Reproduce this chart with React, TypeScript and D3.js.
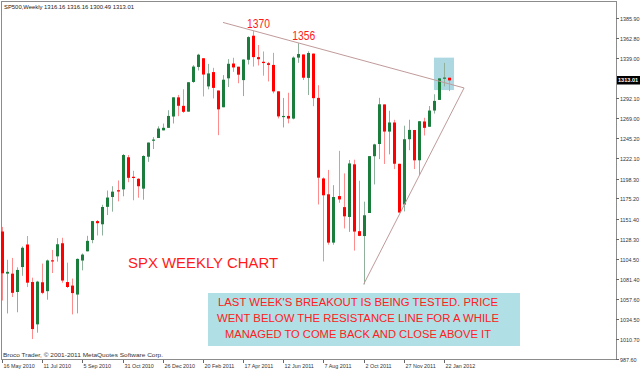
import React, { useEffect } from 'react';
import * as d3 from 'd3';

// weekly SP500 bars, 16 May 2010 .. 29 Jan 2012 (one entry per week)
const opens = [
  1136.52, 1087.3, 1087.3, 1065.84, 1095.0, 1121.34, 1077.5, 1028.09, 1077.23, 1066.85,
  1102.89, 1107.53, 1122.8, 1077.49, 1073.36, 1062.9, 1102.6, 1113.38, 1126.57, 1148.64,
  1144.96, 1165.32, 1176.83, 1184.74, 1185.71, 1223.24, 1200.44, 1198.07, 1186.6, 1223.87,
  1242.52, 1245.76, 1254.66, 1257.62, 1270.84, 1293.22, 1283.29, 1276.5, 1311.19, 1328.73,
  1338.91, 1306.0, 1322.72, 1301.19, 1281.65, 1315.45, 1332.71, 1329.01, 1313.35, 1337.14,
  1365.21, 1340.2, 1334.77, 1333.07, 1331.1, 1300.26, 1271.31, 1271.5, 1268.44, 1339.62,
  1343.31, 1315.94, 1344.32, 1292.59, 1198.48, 1179.99, 1123.55, 1177.91, 1165.0, 1153.5,
  1214.99, 1136.91, 1131.21, 1158.15, 1224.47, 1238.72, 1284.96, 1253.21, 1263.85, 1215.62,
  1168.0, 1244.33, 1255.05, 1219.74, 1265.02, 1258.86, 1277.83, 1290.22, 1315.29, 1316.16,
];
const highs = [
  1141.88, 1103.52, 1105.67, 1094.68, 1119.13, 1131.23, 1082.6, 1078.94, 1099.08, 1103.73,
  1115.01, 1128.75, 1129.24, 1100.14, 1081.58, 1105.1, 1110.88, 1131.47, 1148.9, 1149.92,
  1167.73, 1184.38, 1189.43, 1196.14, 1227.08, 1225.84, 1207.43, 1198.94, 1225.57, 1240.4,
  1246.73, 1259.39, 1262.6, 1278.17, 1293.24, 1296.06, 1302.67, 1311.0, 1330.79, 1344.07,
  1338.91, 1332.28, 1327.68, 1301.19, 1319.18, 1337.85, 1339.46, 1329.01, 1337.49, 1364.56,
  1370.58, 1354.36, 1346.82, 1334.62, 1345.2, 1300.26, 1292.5, 1298.61, 1341.01, 1356.48,
  1343.31, 1347.0, 1344.32, 1307.38, 1199.75, 1208.47, 1190.68, 1230.71, 1204.4, 1220.06,
  1220.39, 1195.86, 1171.36, 1224.61, 1239.03, 1292.66, 1284.96, 1277.55, 1266.98, 1215.62,
  1260.08, 1267.06, 1255.19, 1265.42, 1269.37, 1283.05, 1296.82, 1315.49, 1333.47, 1316.16,
];
const lows = [
  1055.9, 1040.78, 1060.0, 1042.17, 1084.78, 1071.63, 1010.91, 1018.35, 1063.32, 1056.88,
  1088.01, 1101.32, 1076.61, 1070.55, 1039.7, 1040.88, 1091.15, 1113.38, 1122.79, 1131.87,
  1131.87, 1155.71, 1159.71, 1171.7, 1177.65, 1194.08, 1173.0, 1176.0, 1173.64, 1217.88,
  1232.85, 1245.76, 1254.66, 1257.62, 1262.66, 1271.26, 1275.1, 1276.5, 1310.17, 1324.61,
  1294.26, 1302.58, 1291.99, 1249.05, 1281.65, 1305.26, 1322.94, 1309.66, 1294.7, 1331.63,
  1329.17, 1330.42, 1318.51, 1311.8, 1297.9, 1268.59, 1258.07, 1262.87, 1267.53, 1333.56,
  1313.45, 1295.92, 1282.86, 1168.09, 1101.54, 1121.09, 1121.09, 1170.0, 1140.13, 1136.07,
  1114.22, 1131.07, 1074.77, 1158.15, 1191.48, 1221.06, 1215.42, 1226.64, 1209.43, 1158.66,
  1160.0, 1231.47, 1209.47, 1202.37, 1248.64, 1258.86, 1274.29, 1290.22, 1306.06, 1300.49,
];
const closes = [
  1087.69, 1089.41, 1064.88, 1091.6, 1117.51, 1076.76, 1022.58, 1077.96, 1064.88, 1102.66,
  1101.6, 1121.64, 1079.25, 1071.69, 1064.59, 1104.51, 1109.55, 1125.59, 1148.67, 1146.24,
  1165.15, 1176.19, 1183.08, 1183.26, 1225.85, 1199.21, 1199.73, 1189.4, 1224.71, 1240.4,
  1243.91, 1256.77, 1257.64, 1271.5, 1293.24, 1283.35, 1276.34, 1310.87, 1329.15, 1343.01,
  1319.88, 1321.15, 1304.28, 1279.21, 1313.8, 1332.41, 1328.17, 1319.68, 1337.38, 1363.61,
  1340.2, 1337.77, 1333.27, 1331.1, 1300.16, 1270.98, 1271.5, 1268.45, 1339.67, 1343.8,
  1316.14, 1345.02, 1292.28, 1199.38, 1178.81, 1123.53, 1176.8, 1173.97, 1154.23, 1216.01,
  1136.43, 1131.42, 1155.46, 1224.58, 1238.25, 1285.09, 1253.23, 1263.85, 1215.65, 1158.67,
  1244.28, 1255.19, 1219.66, 1265.33, 1257.6, 1277.81, 1289.09, 1315.38, 1316.33, 1313.01,
];

// price axis labels (1315.90 sits under the last-price box)
const priceTicks = [987.6, 1010.7, 1034.5, 1057.6, 1081.4, 1104.5, 1128.3, 1151.4, 1175.2, 1198.3,
  1222.1, 1245.2, 1269.0, 1292.1, 1339.0, 1362.8, 1385.9];
// time axis labels, every 8th bar
const dateLabels = ['16 May 2010', '11 Jul 2010', '5 Sep 2010', '31 Oct 2010', '26 Dec 2010', '20 Feb 2011',
  '17 Apr 2011', '12 Jun 2011', '7 Aug 2011', '2 Oct 2011', '27 Nov 2011', '22 Jan 2012'];

// drawn objects: [bar, price] pairs
const resistanceLine = [[44, 1380.7], [92, 1304.2]];
const supportLine = [[72, 1074.77], [92, 1304.2]];
const highlightBox = [[86, 1339.6], [90, 1301.7]];
const peakLabels = [{ bar: 50, text: '1370' }, { bar: 59, text: '1356' }];
const lastPrice = 1313.01;

const noteLines = [
  "LAST WEEK'S BREAKOUT IS BEING TESTED. PRICE",
  'WENT BELOW THE RESISTANCE LINE FOR A WHILE',
  'MANAGED TO COME BACK AND CLOSE ABOVE IT',
];
const noteWidths = [280, 282, 266];

const W = 640, H = 372;
const FONT = 'Liberation Sans, Arial, sans-serif';

export default function App() {
  useEffect(() => { document.body.style.margin = '0'; }, []);

  const x = d3.scaleLinear().domain([0, 89]).range([2, 449]);
  const y = d3.scaleLinear().domain([987.6, 1385.9]).range([359, 18]);
  const line = d3.line<number[]>().x(d => x(d[0])).y(d => y(d[1]));

  const bars = d3.range(opens.length);

  return (
    <svg width={W} height={H} style={{ display: 'block', background: '#fff' }} fontFamily={FONT}>
      {/* frame */}
      <rect x={1.5} y={1.5} width={615} height={358} fill="none" stroke="#8c8c8c" />

      <text x={4} y={8.5} fontSize={6} fill="#222" textLength={130} lengthAdjust="spacingAndGlyphs">
        SP500,Weekly  1316.16 1316.16 1300.49 1313.01
      </text>

      {/* highlight behind the last bars */}
      <rect x={x(highlightBox[0][0])} y={y(highlightBox[0][1])}
        width={x(highlightBox[1][0]) - x(highlightBox[0][0])}
        height={y(highlightBox[1][1]) - y(highlightBox[0][1])} fill="#add8e2" />

      {/* candles */}
      {bars.map(i => {
        const up = closes[i] >= opens[i];
        const cx = Math.round(x(i)) + 0.5;
        const top = y(Math.max(opens[i], closes[i]));
        const bot = y(Math.min(opens[i], closes[i]));
        return (
          <g key={i}>
            <line x1={cx} x2={cx} y1={y(highs[i])} y2={y(lows[i])} stroke={up ? '#8fb09a' : '#ff8c8c'} />
            <rect x={cx - 1.5} y={top} width={3} height={Math.max(1.2, bot - top)} fill={up ? '#1a7d3c' : '#ff0000'} />
          </g>
        );
      })}

      {/* trend lines */}
      <path d={line(resistanceLine) || ''} fill="none" stroke="#c09a9a" />
      <path d={line(supportLine) || ''} fill="none" stroke="#c09a9a" />

      {peakLabels.map(p => (
        <text key={p.text} x={x(p.bar) - 6} y={y(highs[p.bar]) - 3.5} fontSize={13} fill="#ff1a1a"
          textLength={23} lengthAdjust="spacingAndGlyphs">{p.text}</text>
      ))}

      <text x={128} y={268} fontSize={14} fill="#ff1a1a" textLength={150} lengthAdjust="spacingAndGlyphs">SPX WEEKLY CHART</text>

      {/* note box */}
      <rect x={208} y={293} width={312} height={53} fill="#b0dfe5" />
      {noteLines.map((t, k) => (
        <text key={k} x={358} y={306 + k * 16} fontSize={10} fill="#ff2020" textAnchor="middle"
          textLength={noteWidths[k]} lengthAdjust="spacingAndGlyphs">{t}</text>
      ))}

      <text x={3} y={357} fontSize={5.6} fill="#333" textLength={160} lengthAdjust="spacingAndGlyphs">
        Broco Trader, © 2001-2011 MetaQuotes Software Corp.
      </text>

      {/* price axis */}
      {priceTicks.map(p => (
        <g key={p} transform={`translate(0,${Math.round(y(p)) + 0.5})`}>
          <line x1={616} x2={619} stroke="#666" />
          <text x={620} y={2} fontSize={5.4} fill="#333">{p.toFixed(2)}</text>
        </g>
      ))}
      <rect x={617} y={Math.round(y(lastPrice)) - 4} width={23} height={8.5} fill="#000" />
      <text x={618} y={Math.round(y(lastPrice)) + 2.2} fontSize={5.6} fill="#fff" fontWeight="bold">{lastPrice.toFixed(2)}</text>

      {/* time axis */}
      {dateLabels.map((d, k) => {
        const tx = Math.round(x(k * 8)) + 0.5;
        return (
          <g key={d}>
            <line x1={tx} x2={tx} y1={360} y2={363} stroke="#666" />
            <text x={tx + 1} y={367.5} fontSize={5.4} fill="#333">{d}</text>
          </g>
        );
      })}
    </svg>
  );
}
